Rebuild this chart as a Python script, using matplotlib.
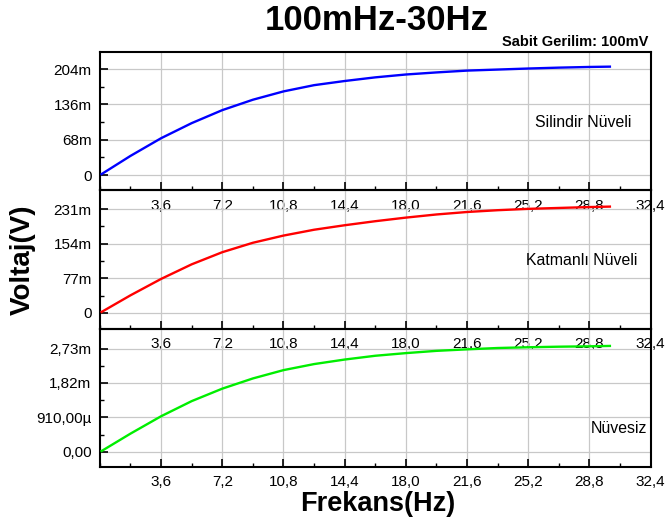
import numpy as np
import matplotlib.pyplot as plt
from matplotlib.ticker import MultipleLocator

plt.rcParams['font.family'] = ['Liberation Sans', 'DejaVu Sans']

# Frequency points (Hz)
freq = [0.1, 1.8, 3.6, 5.4, 7.2, 9.0, 10.8, 12.6, 14.4, 16.2, 18.0,
        19.8, 21.6, 23.4, 25.2, 27.0, 28.8, 30.0]

# Voltages (V)
silindir = [0.002, 0.037, 0.071, 0.100, 0.125, 0.145, 0.161, 0.173, 0.181,
            0.188, 0.1935, 0.1975, 0.201, 0.203, 0.205, 0.2067, 0.208, 0.2086]
katmanli = [0.002, 0.039, 0.0755, 0.108, 0.135, 0.156, 0.172, 0.185, 0.195,
            0.204, 0.212, 0.219, 0.2245, 0.2285, 0.2315, 0.2335, 0.2355, 0.2365]
nuvesiz = [0.00002, 0.00048, 0.00094, 0.00134, 0.00167, 0.00194, 0.00216,
           0.00232, 0.00244, 0.00254, 0.00261, 0.00267, 0.00271, 0.002745,
           0.002765, 0.00278, 0.00279, 0.00280]

xtick_vals = [3.6, 7.2, 10.8, 14.4, 18.0, 21.6, 25.2, 28.8, 32.4]
xtick_labels = ['3,6', '7,2', '10,8', '14,4', '18,0', '21,6', '25,2', '28,8', '32,4']

panels = [
    (silindir, 'blue', 'Silindir Nüveli', [0, 0.068, 0.136, 0.204],
     ['0', '68m', '136m', '204m'], (-0.029, 0.237), (0.877, 0.49)),
    (katmanli, 'red', 'Katmanlı Nüveli', [0, 0.077, 0.154, 0.231],
     ['0', '77m', '154m', '231m'], (-0.035, 0.273), (0.874, 0.49)),
    (nuvesiz, '#00ee00', 'Nüvesiz', [0, 0.00091, 0.00182, 0.00273],
     ['0,00', '910,00µ', '1,82m', '2,73m'], (-0.00040, 0.00326), (0.942, 0.275)),
]

fig, axes = plt.subplots(3, 1, figsize=(6.66, 5.24), dpi=100)
fig.subplots_adjust(left=0.150, right=0.977, top=0.901, bottom=0.109, hspace=0)

for ax, (vals, color, name, yt, ytl, ylim, tpos) in zip(axes, panels):
    ax.patch.set_visible(False)
    ax.plot(freq, vals, color=color, lw=1.7, zorder=3)
    ax.set_xlim(0, 32.4)
    ax.set_ylim(*ylim)
    ax.set_xticks(xtick_vals)
    ax.set_xticklabels(xtick_labels)
    ax.xaxis.set_minor_locator(MultipleLocator(1.8))
    ax.set_yticks(yt)
    ax.set_yticklabels(ytl)
    ax.set_yticks([(yt[i] + yt[i + 1]) / 2 for i in range(3)], minor=True)
    ax.grid(True, which='major', color='#c8c8c8', lw=0.9)
    ax.tick_params(which='major', direction='in', length=6, width=1.2,
                   labelsize=11, pad=6, top=False, right=False)
    ax.tick_params(which='minor', direction='in', length=3, width=1.0,
                   top=False, right=False)
    for s in ax.spines.values():
        s.set_linewidth(1.5)
    ax.text(tpos[0], tpos[1], name, transform=ax.transAxes, ha='center',
            va='center', fontsize=11.4)

fig.text(0.565, 0.960, '100mHz-30Hz', ha='center', va='center',
         fontsize=25, fontweight='bold')
fig.text(0.973, 0.920, 'Sabit Gerilim: 100mV', ha='right', va='center',
         fontsize=10.5, fontweight='bold')
fig.text(0.035, 0.504, 'Voltaj(V)', rotation=90, ha='center', va='center',
         fontsize=20, fontweight='bold')
fig.text(0.567, 0.038, 'Frekans(Hz)', ha='center', va='center',
         fontsize=19.5, fontweight='bold')

fig.savefig('out.png')
